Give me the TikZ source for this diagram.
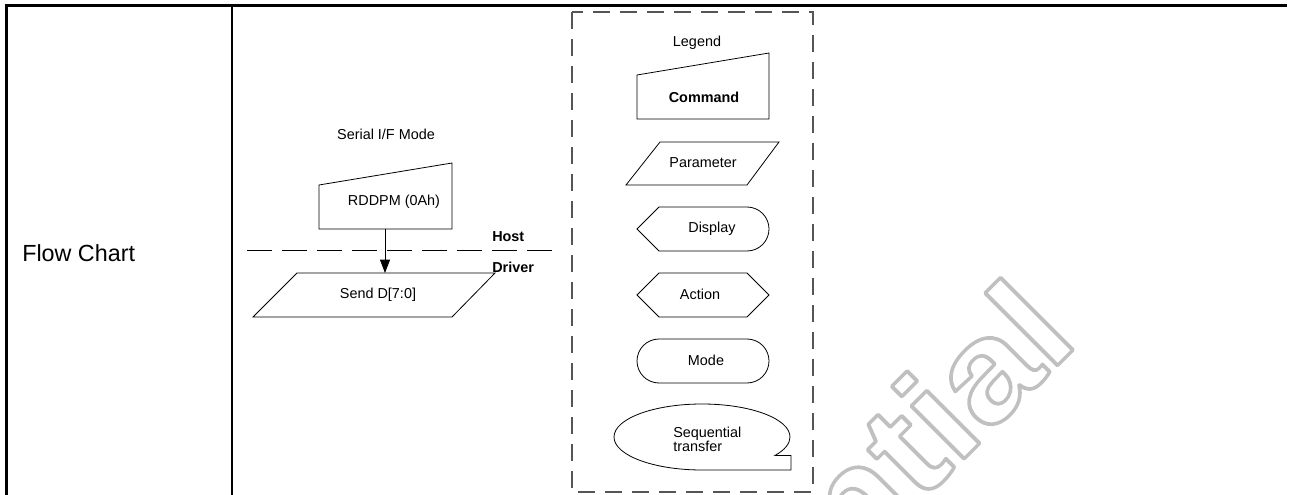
\documentclass[tikz,border=0pt]{standalone}
\usepackage{fontspec}
\setmainfont{Liberation Sans}
\usetikzlibrary{arrows.meta}
\definecolor{lgdgray}{HTML}{555555}
\definecolor{wmgray}{HTML}{C0C0C0}
\newcommand{\outlined}[1]{\special{pdf:literal direct 1 Tr 2.6 w 1 j 0.753 0.753 0.753 RG}#1\special{pdf:literal direct 0 Tr}}
\tikzset{
  shp/.style={draw=black, line width=0.6pt},
  txt/.style={font=\fontsize{10.8}{10.5}\selectfont, inner sep=0pt},
  btxt/.style={font=\fontsize{10.8}{10.5}\selectfont\bfseries, inner sep=0pt},
  frm/.style={draw=black, line width=2pt},
  lane/.style={draw=black, line width=0.75pt, dash pattern=on 18.75pt off 7.5pt},
  lgd/.style={draw=lgdgray, line width=1pt, dash pattern=on 12.75pt off 7.5pt},
  arr/.style={-{Triangle[length=10pt, width=7.5pt]}, line width=0.6pt},
  wm/.style={font=\fontsize{106}{106}\selectfont\bfseries, text=wmgray, inner sep=0pt},
}
\begin{document}
\begin{tikzpicture}[x=0.75pt, y=0.75pt]
  \useasboundingbox (0,0) rectangle (1292,-495);
  \begin{scope}
    \clip (0,0) rectangle (1292,-495);
    \node[wm, rotate=45, xscale=1.12, anchor=base east] (wmark) at (1081,-342) {\outlined{Confidential}};
  \end{scope}
  % table frame
  \draw[frm, line width=1.9pt] (4.5,-5.5) -- (1287,-5.5);
  \draw[frm, line width=2.25pt] (6,-4.5) -- (6,-495);
  \draw[frm, line width=1.5pt] (232,-5.5) -- (232,-495);
  \node[txt, font=\fontsize{17.5}{18}\selectfont, anchor=west] (title) at (22,-253) {Flow Chart};
  % flow
  \node[txt] (mode) at (386,-134) {Serial I/F Mode};
  \draw[shp] (319,-185) -- (452,-163) -- (452,-229) -- (319,-229) -- cycle;
  \node[txt] (rddpm) at (394,-202) {RDDPM (0Ah)};
  \draw[shp] (297,-273) -- (495,-273) -- (452,-317) -- (253,-317) -- cycle;
  \node[txt] (send) at (378,-295) {Send D[7:0]};
  \coordinate (cmdout) at (385,-229);
  \coordinate (sendin) at (385,-273);
  \draw[arr] (cmdout) -- (sendin);
  \coordinate (hl) at (247,-251);
  \coordinate (hr) at (558,-251);
  \draw[lane] (hl) -- (hr);
  \node[btxt, anchor=west] (host) at (492,-237) {Host};
  \node[btxt, anchor=west] (driver) at (492,-267) {Driver};
  % legend
  \draw[lgd] (572,-12) rectangle (813,-492);
  \node[txt] (legend) at (697,-43) {Legend};
  \draw[shp] (637,-75) -- (769,-53) -- (769,-119) -- (637,-119) -- cycle;
  \node[btxt] (command) at (704,-97) {Command};
  \draw[shp] (660,-142) -- (779,-142) -- (747,-185) -- (626,-185) -- cycle;
  \node[txt] (param) at (703,-163) {Parameter};
  \draw[shp] (637,-229) -- (659,-207) -- (747,-207) arc[start angle=90, end angle=-90, radius=22] -- (659,-251) -- cycle;
  \node[txt] (display) at (712,-229) {Display};
  \draw[shp] (637,-295) -- (659,-273) -- (747,-273) -- (769,-295) -- (747,-317) -- (659,-317) -- cycle;
  \node[txt] (action) at (700,-294) {Action};
  \draw[shp] (659,-339) -- (747,-339) arc[start angle=90, end angle=-90, radius=22] -- (659,-383) arc[start angle=270, end angle=90, radius=22] -- cycle;
  \node[txt] (modebox) at (706,-360) {Mode};
  \draw[shp] (702,-470) arc[start angle=270, end angle=-34, x radius=88, y radius=33] -- (791,-455.5) -- (791,-470) -- cycle;
  \node[txt, align=left, anchor=west] (seq) at (673,-439) {Sequential\\transfer};
\end{tikzpicture}
\end{document}
